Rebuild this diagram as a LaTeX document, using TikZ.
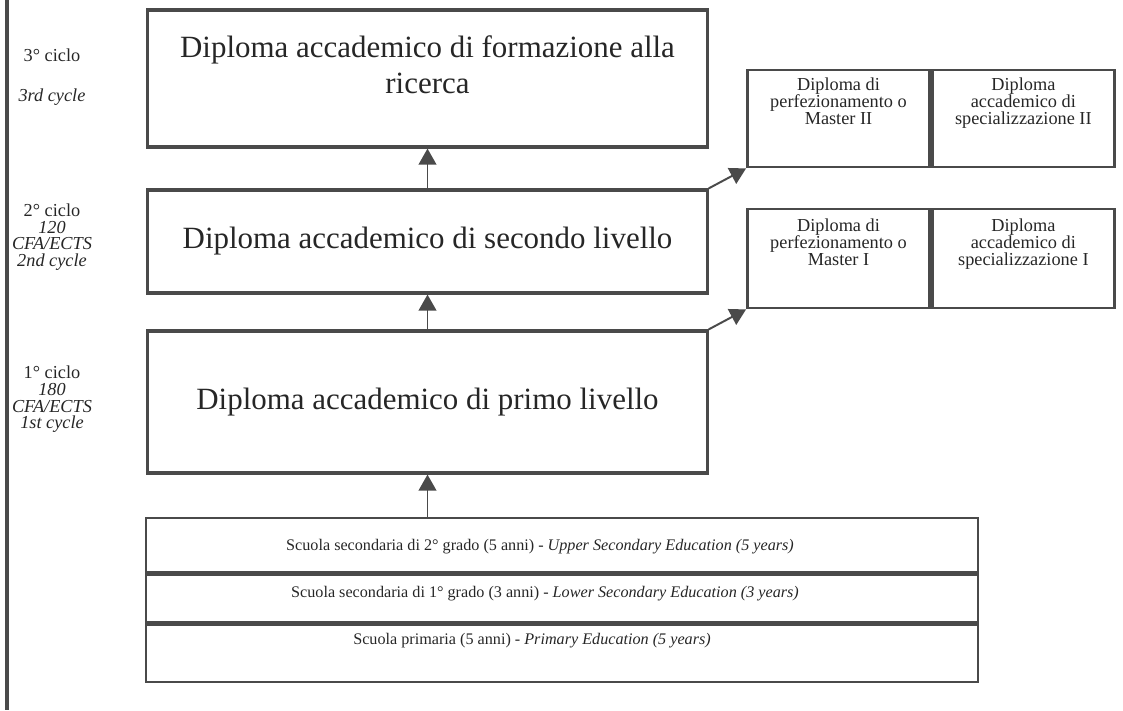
\documentclass[tikz,border=0pt]{standalone}
\usepackage{fontspec}
\setmainfont{Liberation Serif}
\usepackage{tikz}
\usetikzlibrary{positioning,arrows.meta}
\definecolor{ink}{HTML}{4A4A4A}
\definecolor{txt}{HTML}{262626}
\tikzset{
  mainbox/.style={rectangle,draw=ink,line width=2.2pt,minimum width=13.975cm,
    align=center,inner sep=0pt,text=txt,font=\fontsize{22}{25.5}\selectfont},
  cellbox/.style={rectangle,draw=ink,line width=2pt,inner sep=0pt,minimum width=4.55cm},
  celltxt/.style={align=center,inner sep=0pt,text=txt,font=\fontsize{13}{12.2}\selectfont},
  rowbox/.style={rectangle,draw=ink,line width=1.8pt,inner sep=0pt,minimum width=20.8cm},
  rowtxt/.style={inner sep=0pt,text=txt,font=\fontsize{11.5}{13}\selectfont},
  cyc/.style={align=center,inner sep=0pt,text=txt,font=\fontsize{13}{11.8}\selectfont},
  ar/.style={-{Triangle[length=4mm,width=4.4mm]},line width=1.4pt,draw=ink},
}
\begin{document}
\begin{tikzpicture}[x=0.025cm,y=-0.025cm,node distance=0pt]
  \useasboundingbox (0,0) rectangle (1123,710);
  \draw[ink,line width=2.6pt] (7,0) -- (7,710);
  % cycle labels
  \node[cyc] (c3a) at (52,55) {3° ciclo};
  \node[cyc] (c3b) at (52,97) {\itshape 3rd cycle};
  \node[cyc] (c2) at (52,237) {2° ciclo\\\itshape 120\\\itshape CFA/ECTS\\\itshape 2nd cycle};
  \node[cyc] (c1) at (52,399.5) {1° ciclo\\\itshape 180\\\itshape CFA/ECTS\\\itshape 1st cycle};
  % main diplomas
  \node[mainbox,minimum height=3.425cm,text depth=0.7cm] (top) at (427.5,78.5) {Diploma accademico di formazione alla\\ricerca};
  \node[mainbox,minimum height=2.575cm] (mid) at (427.5,241.5) {Diploma accademico di secondo livello};
  \node[mainbox,minimum height=3.55cm] (low) at (427.5,402) {Diploma accademico di primo livello};
  % right boxes
  \node[cellbox,minimum height=2.425cm] (m2a) at (838.5,118.5) {};
  \node[cellbox,minimum height=2.425cm,right=of m2a] (m2b) {};
  \node[cellbox,minimum height=2.475cm] (m1a) at (838.5,258.5) {};
  \node[cellbox,minimum height=2.475cm,right=of m1a] (m1b) {};
  \node[celltxt,anchor=north,below=0.22cm of m2a.north] {Diploma di\\perfezionamento o\\Master II};
  \node[celltxt,anchor=north,below=0.22cm of m2b.north] {Diploma\\accademico di\\specializzazione II};
  \node[celltxt,anchor=north,below=0.27cm of m1a.north] {Diploma di\\perfezionamento o\\Master I};
  \node[celltxt,anchor=north,below=0.27cm of m1b.north] {Diploma\\accademico di\\specializzazione I};
  % schools
  \node[rowbox,minimum height=1.35cm] (row1) at (562,545) {};
  \node[rowbox,minimum height=1.2cm,below=of row1] (row2) {};
  \node[rowbox,minimum height=1.425cm,below=of row2] (row3) {};
  \node[rowtxt] at (540,547) {Scuola secondaria di 2° grado (5 anni) - \textit{Upper Secondary Education (5 years)}};
  \node[rowtxt] at (545,594) {Scuola secondaria di 1° grado (3 anni) - \textit{Lower Secondary Education (3 years)}};
  \node[rowtxt] at (532,641) {Scuola primaria (5 anni) - \textit{Primary Education (5 years)}};
  % arrows
  \draw[ar] (mid.north) -- (top.south);
  \draw[ar] (low.north) -- (mid.south);
  \draw[ar] (row1.north -| low.south) -- (low.south);
  \draw[ar] (mid.north east) -- (m2a.south west);
  \draw[ar] (low.north east) -- (m1a.south west);
\end{tikzpicture}
\end{document}
